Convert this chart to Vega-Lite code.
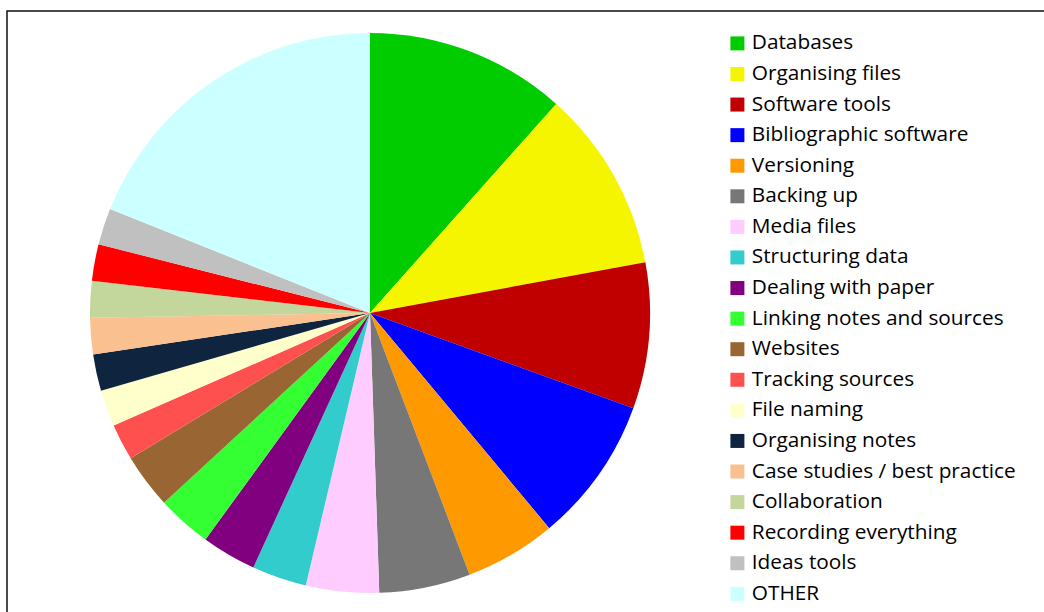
{
  "$schema": "https://vega.github.io/schema/vega-lite/v6.json",
  "width": 1060,
  "height": 620,
  "padding": {"left": 7, "top": 11, "right": 0, "bottom": 0},
  "autosize": {"type": "none"},
  "background": "white",
  "view": {"stroke": "#111111", "strokeWidth": 1.5, "fill": "white"},
  "config": {
    "font": "Open Sans"
  },
  "data": {
    "values": [
      {"idx": 1, "topic": "Databases", "count": 11},
      {"idx": 2, "topic": "Organising files", "count": 10},
      {"idx": 3, "topic": "Software tools", "count": 8},
      {"idx": 4, "topic": "Bibliographic software", "count": 8},
      {"idx": 5, "topic": "Versioning", "count": 5},
      {"idx": 6, "topic": "Backing up", "count": 5},
      {"idx": 7, "topic": "Media files", "count": 4},
      {"idx": 8, "topic": "Structuring data", "count": 3},
      {"idx": 9, "topic": "Dealing with paper", "count": 3},
      {"idx": 10, "topic": "Linking notes and sources", "count": 3},
      {"idx": 11, "topic": "Websites", "count": 3},
      {"idx": 12, "topic": "Tracking sources", "count": 2},
      {"idx": 13, "topic": "File naming", "count": 2},
      {"idx": 14, "topic": "Organising notes", "count": 2},
      {"idx": 15, "topic": "Case studies / best practice", "count": 2},
      {"idx": 16, "topic": "Collaboration", "count": 2},
      {"idx": 17, "topic": "Recording everything", "count": 2},
      {"idx": 18, "topic": "Ideas tools", "count": 2},
      {"idx": 19, "topic": "OTHER", "count": 18}
    ]
  },
  "mark": {"type": "arc", "radius": 280, "x": 363, "y": 302},
  "encoding": {
    "theta": {"field": "count", "type": "quantitative", "stack": true},
    "order": {"field": "idx", "type": "quantitative"},
    "color": {
      "field": "topic",
      "type": "nominal",
      "sort": null,
      "scale": {
        "domain": ["Databases", "Organising files", "Software tools", "Bibliographic software", "Versioning", "Backing up", "Media files", "Structuring data", "Dealing with paper", "Linking notes and sources", "Websites", "Tracking sources", "File naming", "Organising notes", "Case studies / best practice", "Collaboration", "Recording everything", "Ideas tools", "OTHER"],
        "range": ["#00cc00", "#f5f500", "#c00000", "#0000ff", "#ff9900", "#777777", "#ffccff", "#33cccc", "#800080", "#33ff33", "#996633", "#ff5050", "#ffffcc", "#0f243e", "#fac090", "#c3d69b", "#ff0000", "#c0c0c0", "#ccffff"]
      },
      "legend": {
        "title": null,
        "orient": "none",
        "legendX": 720,
        "legendY": 22,
        "symbolType": "square",
        "symbolSize": 196,
        "symbolStrokeWidth": 0,
        "labelFontSize": 20.8,
        "labelFont": "Open Sans",
        "labelColor": "#000000",
        "labelOffset": 4,
        "rowPadding": 8.58,
        "labelLimit": 400
      }
    }
  }
}
